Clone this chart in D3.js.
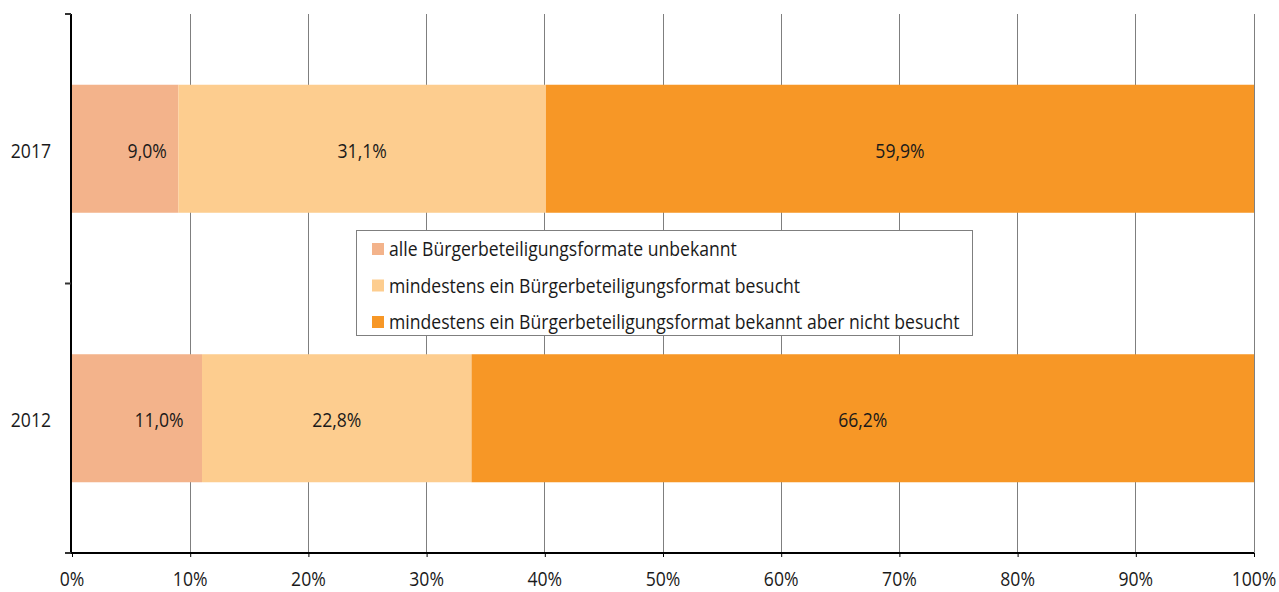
<!DOCTYPE html>
<html><head><meta charset="utf-8">
<script src="https://cdn.jsdelivr.net/npm/d3@7"></script>
<style>
body{margin:0;background:#fff;}
text{font-family:"Open Sans","Noto Sans",sans-serif;fill:#1a1a1a;}
</style></head>
<body>
<svg id="c" width="1279" height="592"></svg>
<script>
const years = ["2017", "2012"];
const seriesNames = [
  "alle Bürgerbeteiligungsformate unbekannt",
  "mindestens ein Bürgerbeteiligungsformat besucht",
  "mindestens ein Bürgerbeteiligungsformat bekannt aber nicht besucht"
];
const unbekannt = [9.0, 11.0];
const besucht = [31.1, 22.8];
const bekanntNichtBesucht = [59.9, 66.2];
const colors = ["#F3B38B", "#FDCD8F", "#F79726"];
const xTicks = [0,10,20,30,40,50,60,70,80,90,100];

const svg = d3.select("#c");
const L = 72, R = 1254, T = 14, B = 553;
const x = d3.scaleLinear().domain([0,100]).range([L,R]);
const y = d3.scaleBand().domain(years).range([T,B]).paddingInner(0.525).paddingOuter(0.2625);
const fontSize = 20, sx = 0.88;

// grid
svg.append("g").selectAll("line").data(xTicks.slice(1)).join("line")
  .attr("x1",d=>x(d)).attr("x2",d=>x(d)).attr("y1",T).attr("y2",B)
  .attr("stroke","#7f7f7f").attr("stroke-width",1).attr("shape-rendering","crispEdges");

const series = [unbekannt, besucht, bekanntNichtBesucht];
const rows = years.map((yr,i)=>{
  let acc=0;
  return series.map((s,k)=>{const o={yr,k,v:s[i],x0:acc,x1:acc+s[i]}; acc+=s[i]; return o;});
}).flat();

svg.append("g").selectAll("rect").data(rows).join("rect")
  .attr("x",d=>x(d.x0)).attr("width",d=>x(d.x1)-x(d.x0))
  .attr("y",d=>y(d.yr)).attr("height",y.bandwidth())
  .attr("fill",d=>colors[d.k]);

svg.append("g").selectAll("text").data(rows).join("text")
  .attr("transform",d=>`translate(${(x(d.x0)+x(d.x1))/2 + (d.k===0?22:0)},${y(d.yr)+y.bandwidth()/2}) scale(${sx},1)`)
  .attr("dy","0.45em").attr("text-anchor","middle").attr("font-size",fontSize)
  .text(d=>d3.format(".1f")(d.v).replace(".",",")+"%");

// x axis (ticks via d3 axis, labels drawn from the same scale)
const xAxis = d3.axisBottom(x).tickValues(xTicks).tickFormat("").tickSize(4).tickSizeOuter(0);
const gx = svg.append("g").attr("transform",`translate(0,${B})`).call(xAxis);
gx.select(".domain").attr("stroke","#000").attr("stroke-width",2).attr("d",`M${L-6},0H${R}`);
gx.selectAll(".tick line").attr("stroke","#000");
svg.append("g").selectAll("text").data(xTicks).join("text")
  .attr("transform",d=>`translate(${x(d)},${B+33}) scale(${sx},1)`)
  .attr("text-anchor","middle").attr("font-size",fontSize).text(d=>d+"%");

// y axis
svg.append("line").attr("x1",L-1).attr("x2",L-1).attr("y1",T).attr("y2",B+1).attr("stroke","#000").attr("stroke-width",2);
svg.append("g").selectAll("line").data([T, (T+B)/2, B]).join("line")
  .attr("x1",L-7).attr("x2",L-1).attr("y1",d=>d).attr("y2",d=>d).attr("stroke","#333").attr("stroke-width",2);
svg.append("g").selectAll("text").data(years).join("text")
  .attr("transform",d=>`translate(51,${y(d)+y.bandwidth()/2}) scale(${sx},1)`).attr("dy","0.45em")
  .attr("text-anchor","end").attr("font-size",fontSize).text(d=>d);

// legend
const lg = svg.append("g");
lg.append("rect").attr("x",356.5).attr("y",230.5).attr("width",616).attr("height",105)
  .attr("fill","#fff").attr("stroke","#7f7f7f");
seriesNames.forEach((n,i)=>{
  const cy = 249 + i*36.5;
  lg.append("rect").attr("x",372).attr("y",cy-6).attr("width",12).attr("height",12).attr("fill",colors[i]);
  lg.append("text").attr("transform",`translate(389,${cy}) scale(${sx},1)`).attr("dy","0.35em").attr("font-size",fontSize).text(n);
});
</script>
</body></html>
